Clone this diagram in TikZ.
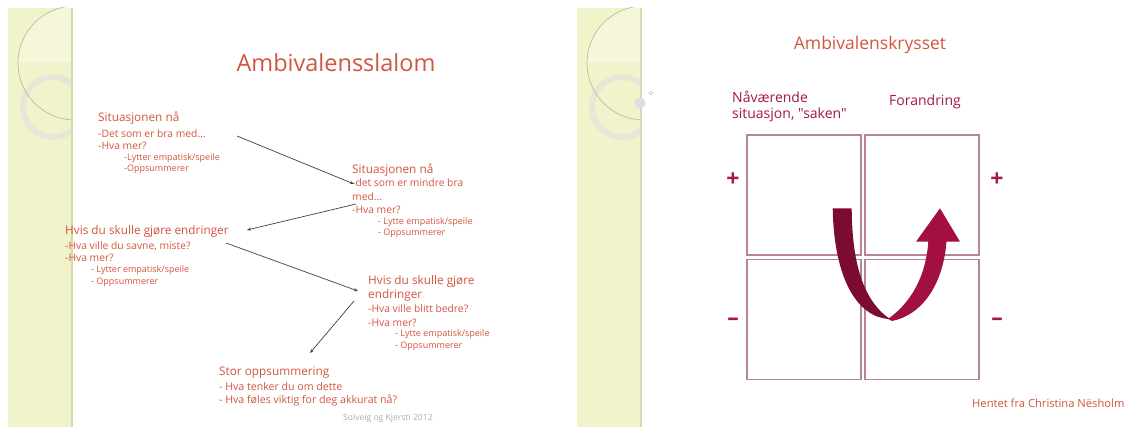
\documentclass[tikz,border=0pt]{standalone}
\usepackage{fontspec}
\setmainfont{Open Sans}[Ligatures=TeXOff]
\usetikzlibrary{arrows.meta}
\definecolor{txtred}{HTML}{D2553F}
\definecolor{maroonA}{HTML}{A3174A}
\definecolor{bandc}{HTML}{F1F3CB}
\definecolor{bandedge}{HTML}{D6D9AE}
\definecolor{circc}{HTML}{BDBD9C}
\definecolor{ringc}{HTML}{E6E6DA}
\definecolor{boxc}{HTML}{B8858F}
\definecolor{uleft}{HTML}{7B0B33}
\definecolor{uright}{HTML}{A3103F}
\newcommand{\myfs}[1]{\fontsize{#1}{#1}\selectfont}
\tikzset{
  ln/.style={anchor=west, inner sep=0pt, text=txtred, font=\myfs{10.3}},
  hd/.style={ln, font=\myfs{11.8}},
  sb/.style={ln, font=\myfs{9}},
  conn/.style={draw=black!75, line width=0.7pt, -{Stealth[length=4pt,width=3pt]}},
  quad/.style={draw=boxc, line width=1.1pt, minimum width=114pt, minimum height=120pt, inner sep=0pt},
  pm/.style={text=maroonA, font=\myfs{23}\bfseries, inner sep=0pt},
  rl/.style={anchor=west, inner sep=0pt, text=maroonA, font=\myfs{14}}
}
\begin{document}
\begin{tikzpicture}[x=1pt,y=-1pt]
\useasboundingbox (0,0) rectangle (1128,427);
\fill[white] (0,0) rectangle (1128,427);
% ---- decorative bands
\foreach \dx in {0,569}{
  \begin{scope}[xshift=\dx]
    \fill[bandc] (8,8) rectangle (72,427);
    \begin{scope}
      \clip (8,8) rectangle (72,427);
      \begin{scope}
        \clip (0,0) rectangle (80,62);
        \fill[white,opacity=0.3] (75,63) circle (57);
      \end{scope}
      \draw[ringc, line width=6pt, opacity=0.85] (53,107) circle (30);
      \draw[circc, line width=0.7pt] (75,63) circle (57);
    \end{scope}
    \draw[bandedge, line width=1.5pt] (72,8) -- (72,427);
  \end{scope}
}
\fill[fill=cyan!10!gray!30] (640,103) circle (5.5);
\draw[gray!60, line width=0.4pt] (651,93) circle (1.8);

% ---- left slide
\node[text=txtred, font=\myfs{23.5}] (t1) at (336,63) {Ambivalensslalom};

\node[hd] (b1h) at (98,118) {Situasjonen nå};
\node[ln] (b1a) at (98,134) {-Det som er bra med…};
\node[ln] (b1b) at (98,146) {-Hva mer?};
\node[sb] (b1c) at (124,158) {-Lytter empatisk/speile};
\node[sb] (b1d) at (124,169) {-Oppsummerer};

\node[hd] (b2h) at (352,170) {Situasjonen nå};
\node[ln] (b2a) at (352,183) {-det som er mindre bra};
\node[ln] (b2b) at (352,197) {med…};
\node[ln] (b2c) at (352,210) {-Hva mer?};
\node[sb] (b2d) at (378,222) {- Lytte empatisk/speile};
\node[sb] (b2e) at (378,233) {- Oppsummerer};

\node[hd] (b3h) at (65,231) {Hvis du skulle gjøre endringer};
\node[ln] (b3a) at (65,246) {-Hva ville du savne, miste?};
\node[ln] (b3b) at (65,258) {-Hva mer?};
\node[sb] (b3c) at (91,270) {- Lytter empatisk/speile};
\node[sb] (b3d) at (91,282) {- Oppsummerer};

\node[hd] (b4h) at (368,281) {Hvis du skulle gjøre};
\node[hd] (b4a) at (368,295) {endringer};
\node[ln] (b4b) at (368,309) {-Hva ville blitt bedre?};
\node[ln] (b4c) at (368,323) {-Hva mer?};
\node[sb] (b4d) at (395,334) {- Lytte empatisk/speile};
\node[sb] (b4e) at (395,346) {- Oppsummerer};

\node[hd] (b5h) at (219,373) {Stor oppsummering};
\node[ln, font=\myfs{10.6}] (b5a) at (219,387) {- Hva tenker du om dette};
\node[ln, font=\myfs{10.6}] (b5b) at (219,400) {- Hva føles viktig for deg akkurat nå?};

\node[anchor=west, inner sep=0pt, text=black!32, font=\myfs{8.6}] (foot) at (343,418) {Solveig og Kjersti 2012};

\coordinate (a1s) at (237,136); \coordinate (a1e) at (354,184);
\coordinate (a2s) at (356,204); \coordinate (a2e) at (247,230);
\coordinate (a3s) at (226,243); \coordinate (a3e) at (358,291);
\coordinate (a4s) at (354,301); \coordinate (a4e) at (310,353);
\draw[conn] (a1s) -- (a1e);
\draw[conn] (a2s) -- (a2e);
\draw[conn] (a3s) -- (a3e);
\draw[conn] (a4s) -- (a4e);

% ---- right slide
\node[text=txtred, font=\myfs{17.5}] (t2) at (870,45) {Ambivalenskrysset};
\node[rl] (nv1) at (732,97) {Nåværende};
\node[rl] (nv2) at (732,115) {situasjon, "saken"};
\node[rl] (forand) at (889,102) {Forandring};

\node[quad] (q1) at (804,195) {};
\node[quad] (q2) at (922,195) {};
\node[quad] (q3) at (804,319.5) {};
\node[quad] (q4) at (922,319.5) {};

\node[pm] (pl) at (733,180) {+};
\node[pm] (pr) at (997,180) {+};
\node[pm] (ml) at (733,322) {–};
\node[pm] (mr) at (997,322) {–};

% U-shaped ribbon arrow
\fill[uleft] (832.7,208.3) -- (851.7,208.3) .. controls (852,260) and (862,300) .. (890,319)
  .. controls (858,318) and (834,280) .. (832.7,208.3) -- cycle;
\fill[uright] (888,319) .. controls (912,302) and (926,275) .. (928.3,241.7) -- (916,241.7)
  -- (940,208.3) -- (960,241.7) -- (946.5,241.7) .. controls (943,285) and (922,315) .. (892,321) -- cycle;

\node[anchor=west, inner sep=0pt, text=txtred, font=\myfs{11.2}] (hentet) at (972,403) {Hentet fra Christina Nësholm};
\end{tikzpicture}
\end{document}
